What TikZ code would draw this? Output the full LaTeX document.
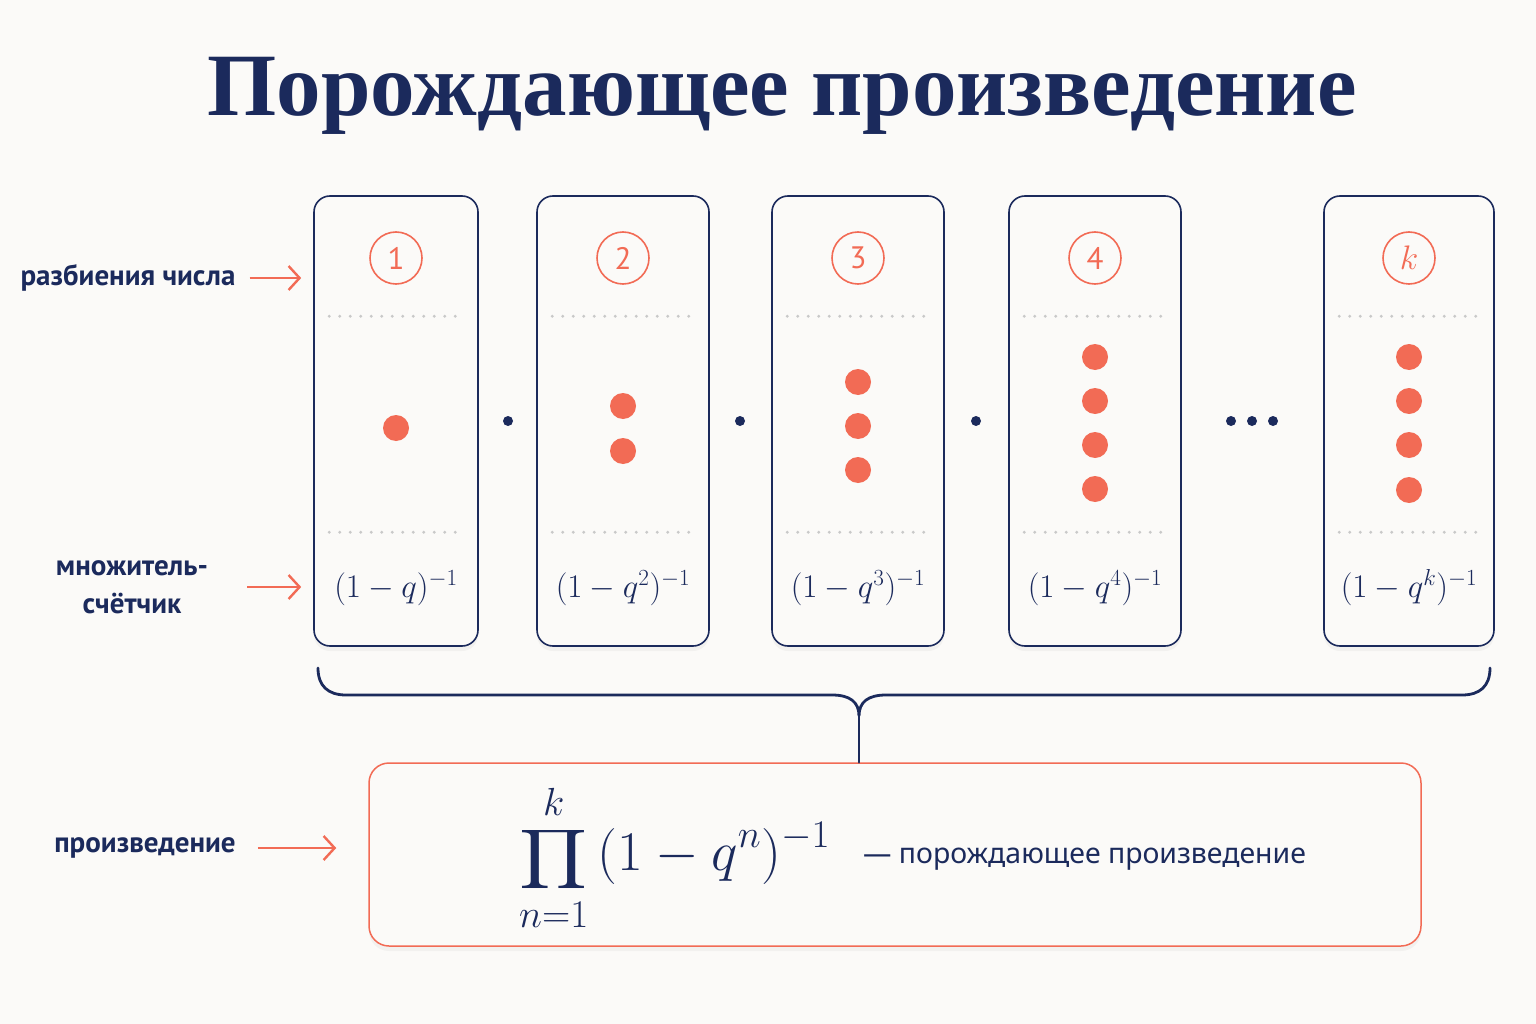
\documentclass[tikz,border=0pt]{standalone}
\usepackage{fix-cm}
\usepackage{amsmath}
\usepackage{fontspec}
\setmainfont{Liberation Serif}
\newfontfamily\labfont{PT Sans}
\newfontfamily\txtfont{Noto Sans}
\DeclareFontShape{OMX}{cmex}{m}{n}{<->cmex10}{}
\usetikzlibrary{positioning,arrows.meta,shadows,calc}
\definecolor{navy}{HTML}{1B2A5C}
\definecolor{coral}{HTML}{F26B55}
\definecolor{paper}{HTML}{FBFAF8}
\definecolor{dotgray}{HTML}{C9C9C9}
\newcommand{\bigprod}{\mathop{\scalebox{0.95}[0.74]{$\displaystyle\prod$}}\limits}

\tikzset{
  col/.style={draw=navy,line width=1.6pt,rounded corners=16pt,fill=paper,minimum width=#1,minimum height=450pt,inner sep=0pt,
    drop shadow={opacity=0.07,shadow xshift=0pt,shadow yshift=-5pt}},
  numc/.style={circle,draw=coral,line width=1.6pt,minimum size=52pt,inner sep=0pt,text=coral,font=\labfont\fontsize{31}{31}\selectfont},
  sep/.style={dotgray,line width=3.2pt,line cap=round,dash pattern=on 0pt off 10.5pt},
  fml/.style={text=navy,inner sep=0pt,font=\fontsize{33}{36}\selectfont},
  lab/.style={text=navy,inner sep=0pt,align=center,font=\labfont\bfseries\fontsize{29}{38}\selectfont},
  arr/.style={coral,line width=2.4pt,-{Straight Barb[length=11pt,width=24pt]}},
  brace/.style={navy,line width=2.8pt,line cap=round}
}

\begin{document}
\begin{tikzpicture}[x=1pt,y=-1pt]
\fill[paper] (0,0) rectangle (1536,1024);
\useasboundingbox (0,0) rectangle (1536,1024);

\node[text=navy,font=\bfseries\fontsize{89}{96}\selectfont] (ttl) at (782,96) {Порождающее произведение};

\node[col=164pt] (c1) at (396,421) {};
\node[col=172pt] (c2) at (623,421) {};
\node[col=172pt] (c3) at (858,421) {};
\node[col=172pt] (c4) at (1095,421) {};
\node[col=170pt] (c5) at (1409,421) {};

\node[numc] (n1) at (396,258) {1};
\node[numc] (n2) at (623,258) {2};
\node[numc] (n3) at (858,258) {3};
\node[numc] (n4) at (1095,258) {4};
\node[numc,font=\fontsize{34}{34}\selectfont] (n5) at (1409,258) {$k$};

\foreach \c/\w in {c1/132,c2/140,c3/140,c4/140,c5/138}{
  \draw[sep] (\c.north west) ++(16,121) -- ++(\w,0);
  \draw[sep] (\c.north west) ++(16,337) -- ++(\w,0);
}

\foreach \x/\y in {396/428, 623/406,623/451, 858/382,858/426,858/470,
  1095/357,1095/401,1095/445,1095/489, 1409/357,1409/401,1409/445,1409/490}
  \fill[coral] (\x,\y) circle[radius=13pt];

\foreach \x in {508,740,976,1231,1252,1273}
  \fill[navy] (\x,421) circle[radius=5pt];

\node[fml] (f1) at (396,588) {$(1-q)^{-1}$};
\node[fml] (f2) at (623,588) {$(1-q^2)^{-1}$};
\node[fml] (f3) at (858,588) {$(1-q^3)^{-1}$};
\node[fml] (f4) at (1095,588) {$(1-q^4)^{-1}$};
\node[fml] (f5) at (1409,588) {$(1-q^k)^{-1}$};

\node[lab] (l1) at (128,278) {разбиения числа};
\node[lab] (l2) at (132,587) {множитель-\\счётчик};
\node[lab] (l3) at (145,848) {произведение};

\node[draw=coral,line width=1.5pt,rounded corners=20pt,fill=paper,minimum width=1052pt,minimum height=183pt,inner sep=0pt,
  drop shadow={opacity=0.07,shadow xshift=0pt,shadow yshift=-5pt}] (sum) at (895,854.5) {};
\node[text=navy,inner sep=0pt,anchor=west,font=\fontsize{56}{60}\selectfont] (prod) at (519,858)
  {$\displaystyle\bigprod_{n=1}^{k}\,(1-q^n)^{-1}$};
\node[text=navy,inner sep=0pt,anchor=west,font=\txtfont\fontsize{28.4}{34}\selectfont] (note) at (863,859)
  {— порождающее произведение};

\draw[arr,shorten <=14pt,shorten >=12pt] (l1.east) -- (c1.west |- l1.east);
\draw[arr,shorten <=39pt,shorten >=12pt] (l2.east) -- (c1.west |- l2.east);
\draw[arr,shorten <=22pt,shorten >=32pt] (l3.east) -- (sum.west |- l3.east);

\coordinate (cusp) at (859,716);
\draw[brace] (318,668) .. controls (318,686) and (328,695) .. (346,695) -- (832,695)
  .. controls (850,695) and (859,702) .. (cusp)
  .. controls (859,702) and (868,695) .. (886,695) -- (1462,695)
  .. controls (1480,695) and (1490,686) .. (1490,668);
\draw[brace] (cusp) -- (cusp |- sum.north);
\end{tikzpicture}
\end{document}
